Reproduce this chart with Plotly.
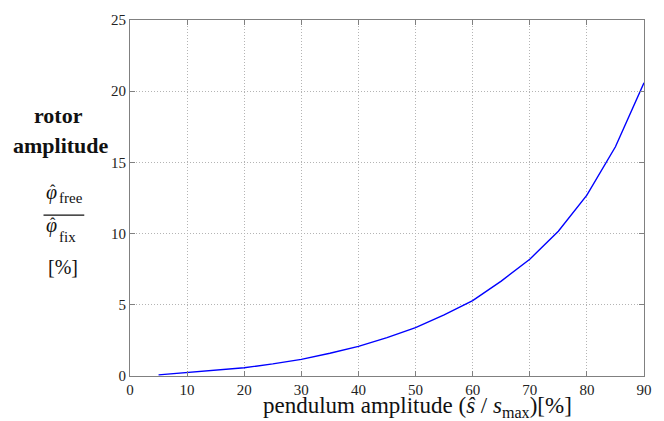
import plotly.graph_objects as go

pendulum_amp = [5, 10, 15, 20, 25, 30, 35, 40, 45, 50, 55, 60, 65, 70, 75, 80, 85, 90]
rotor_amp = [0.08, 0.23, 0.38, 0.58, 0.85, 1.17, 1.6, 2.08, 2.7, 3.4, 4.3, 5.3, 6.66, 8.2, 10.17, 12.7, 16.1, 20.6]
x_ticks = [0, 10, 20, 30, 40, 50, 60, 70, 80, 90]
y_ticks = [0, 5, 10, 15, 20, 25]

FONT = "Liberation Serif"
W, H = 664, 421
L, R, T, B = 130, 17, 13, 45
PW, PH = W - L - R, H - T - B

fig = go.Figure()
fig.add_trace(go.Scatter(x=pendulum_amp, y=rotor_amp, mode="lines",
                         line=dict(color="#0000ff", width=1.4), showlegend=False))

axis_common = dict(showline=True, linecolor="#808080", linewidth=1, mirror="ticks",
                   ticks="inside", ticklen=5, tickcolor="#808080",
                   showgrid=True, gridcolor="#b4b4b4", griddash="1px,2px", gridwidth=1,
                   zeroline=False, tickfont=dict(family=FONT, size=15, color="#222"))

fig.update_xaxes(range=[0, 90], tickvals=x_ticks, **axis_common)
fig.update_yaxes(range=[0, 25], tickvals=y_ticks, **axis_common)


def px2paper(px, py):
    return (px - L) / PW, 1 - (py - T) / PH


def add_text(px, py, text, size, xanchor="center", yanchor="middle"):
    x, y = px2paper(px, py)
    fig.add_annotation(x=x, y=y, xref="paper", yref="paper", text=text, showarrow=False,
                       xanchor=xanchor, yanchor=yanchor,
                       font=dict(family=FONT, size=size, color="#111"))


add_text(419, 408, "pendulum amplitude (<i>ŝ</i> / <i>s</i><sub>max</sub>)[%]", 23)
add_text(58, 110, "<b>rotor</b>", 22)
add_text(61, 141, "<b>amplitude</b>", 22)
# numerator
add_text(51.5, 189, "<i>φ</i>", 20)
add_text(53, 187, "ˆ", 16)
add_text(57, 195, "free", 15, xanchor="left")
# denominator
add_text(51.5, 223, "<i>φ</i>", 20)
add_text(53, 220, "ˆ", 16)
add_text(57, 234, "fix", 15, xanchor="left")
add_text(63, 265, "[%]", 20)

x0, y0 = px2paper(43, 212)
x1, _ = px2paper(84, 212)
fig.add_shape(type="line", xref="paper", yref="paper", x0=x0, x1=x1, y0=y0, y1=y0,
              line=dict(color="#111", width=1.2))

fig.update_layout(width=W, height=H, margin=dict(l=L, r=R, t=T, b=B),
                  plot_bgcolor="white", paper_bgcolor="white")

fig.write_html("out.html", config={"displayModeBar": False},
               post_script="document.body.style.margin='0';")
